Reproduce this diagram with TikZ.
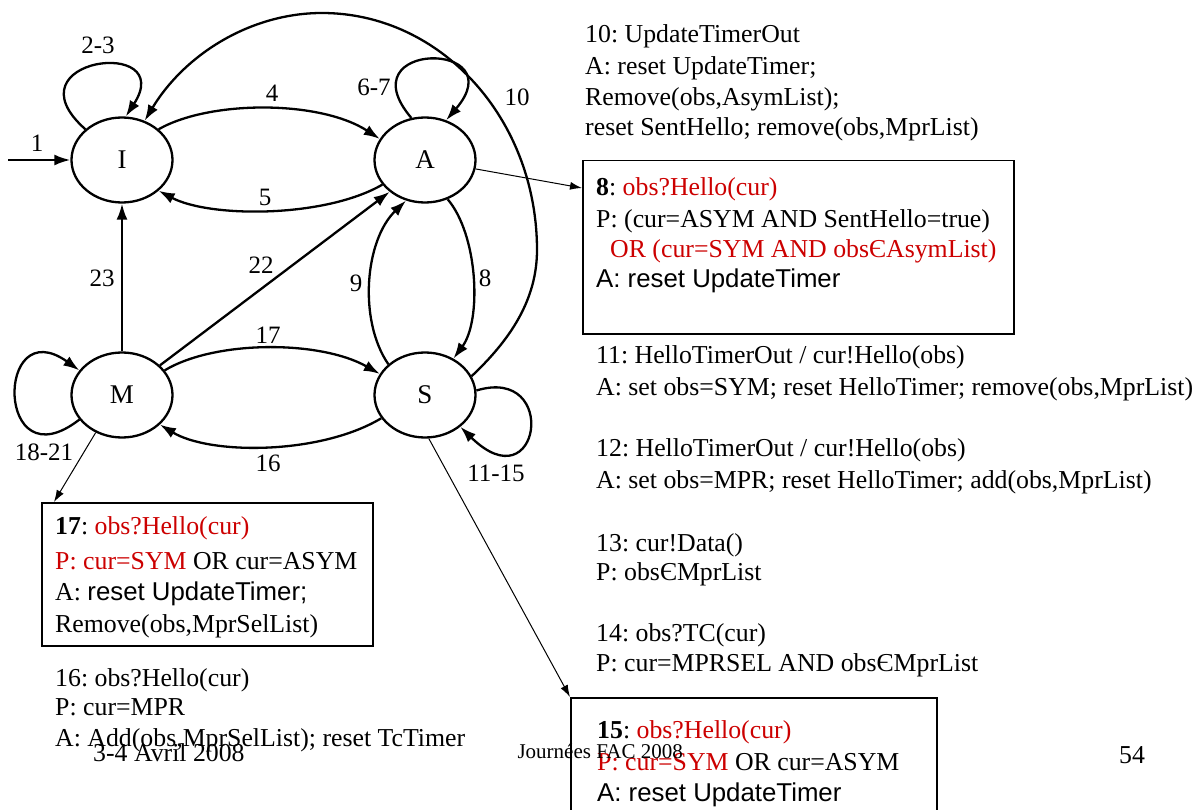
\documentclass[tikz,border=0pt]{standalone}
\usepackage{fontspec}
\setmainfont{Liberation Serif}
\newfontfamily\sansf{Liberation Sans}
\usetikzlibrary{shapes.geometric,arrows.meta,calc}
\definecolor{hlred}{RGB}{204,0,0}
\frenchspacing

\tikzset{
  state/.style={ellipse, draw, line width=2.3pt, minimum width=101pt, minimum height=85pt,
    inner sep=0pt, font=\fontsize{27}{30}\selectfont},
  tr/.style={line width=2.3pt, -{Latex[length=16pt,width=11pt]}},
  lbl/.style={inner sep=0pt, font=\fontsize{25}{28}\selectfont},
  note/.style={line width=1pt, -{Latex[length=12pt,width=8pt]}},
  notebox/.style={draw, line width=1.5pt, anchor=north west, inner sep=0pt},
  txt/.style={anchor=base west, inner sep=0pt, font=\fontsize{25.8}{31}\selectfont},
}

\begin{document}
\begin{tikzpicture}[x=1pt,y=-1pt]
\useasboundingbox (0,0) rectangle (1202,810);

% states
\node[state] (I) at (122,160) {I};
\node[state] (A) at (425,160) {A};
\node[state] (M) at (122,395) {M};
\node[state] (S) at (425,395) {S};

% initial transition
\coordinate (init) at (8,160);
\draw[tr] (init) -- (I.west);
\node[lbl] (l1) at (37,143) {1};

% self loops
\draw[tr] (I.140) .. controls (5,58) and (178,36) .. (I.85);
\node[lbl] (l23a) at (98,45) {2-3};
\draw[tr] (A.108) .. controls (345,40) and (515,40) .. (A.62);
\node[lbl] (l67) at (374,87) {6-7};
\draw[tr] (M.210) .. controls (-5,485) and (-5,310) .. (M.150);
\node[lbl] (l1821) at (44,452) {18-21};
\draw[tr] (S.5) .. controls (560,365) and (540,505) .. (S.-42);
\node[lbl] (l1115) at (496,473) {11-15};

% transitions between states
\draw[tr] (I.40) .. controls (210,100) and (320,100) .. (A.155);
\node[lbl] (l4) at (272,93) {4};
\draw[tr] (A.210) .. controls (325,218) and (210,218) .. (I.320);
\node[lbl] (l5) at (265,197) {5};
\draw[tr] (M.north) -- (I.south);
\node[lbl] (l23) at (102,278) {23};
\draw[tr] (M.38) -- (A.222);
\node[lbl] (l22) at (261,265) {22};
\draw[tr] (S.140) .. controls (358,320) and (365,240) .. (A.245);
\node[lbl] (l9) at (356,283) {9};
\draw[tr] (A.300) .. controls (478,235) and (482,320) .. (S.52);
\node[lbl] (l8) at (485,278) {8};
\draw[tr] (M.30) .. controls (215,340) and (320,340) .. (S.155);
\node[lbl] (l17) at (268,335) {17};
\draw[tr] (S.208) .. controls (320,455) and (210,455) .. (M.322);
\node[lbl] (l16) at (268,463) {16};
\draw[tr] (S.22) .. controls (510,340) and (537,300) .. (537,250)
  .. controls (537,119) and (441,13) .. (322,13)
  .. controls (251,13) and (185,54) .. (I.60);
\node[lbl] (l10) at (517,97) {10};

% annotation boxes
\node[notebox, minimum width=431pt, minimum height=173pt] (b8) at (582,160) {};
\node[notebox, minimum width=331pt, minimum height=143pt] (b17) at (41,502) {};
\node[notebox, minimum width=366pt, minimum height=150pt] (b15) at (570,697) {};

\draw[note] (A.350) -- ($(b8.north west)+(0,28)$);
\draw[note] (M.235) -- ($(b17.north west)+(13,0)$);
\draw[note] (S.275) -- (b15.north west);

% transition 10
\node[txt] (t10a) at (585,43) {10: UpdateTimerOut};
\node[txt] (t10b) at (585,75) {A: reset UpdateTimer;};
\node[txt] (t10c) at (585,106) {Remove(obs,AsymList);};
\node[txt] (t10d) at (585,136) {reset SentHello; remove(obs,MprList)};

% transition 8
\node[txt] (t8a) at (596,196) {\textbf{8}: \textcolor{hlred}{obs?Hello(cur)}};
\node[txt] (t8b) at (596,228) {P: (cur=ASYM AND SentHello=true)};
\node[txt] (t8c) at (610,258) {\textcolor{hlred}{OR (cur=SYM AND obsЄAsymList)}};
\node[txt] (t8d) at (596,288) {\sansf A: reset UpdateTimer};

% transitions 11 to 14
\node[txt] (t11a) at (596,363) {11: HelloTimerOut / cur!Hello(obs)};
\node[txt] (t11b) at (596,395) {A: set obs=SYM; reset HelloTimer; remove(obs,MprList)};
\node[txt] (t12a) at (596,456) {12: HelloTimerOut / cur!Hello(obs)};
\node[txt] (t12b) at (596,488) {A: set obs=MPR; reset HelloTimer; add(obs,MprList)};
\node[txt] (t13a) at (596,551) {13: cur!Data()};
\node[txt] (t13b) at (596,580) {P: obsЄMprList};
\node[txt] (t14a) at (596,641) {14: obs?TC(cur)};
\node[txt] (t14b) at (596,671) {P: cur=MPRSEL AND obsЄMprList};

% transition 17
\node[txt] (t17a) at (55,534) {\textbf{17}: \textcolor{hlred}{obs?Hello(cur)}};
\node[txt] (t17b) at (55,569) {\textcolor{hlred}{P: cur=SYM} OR cur=ASYM};
\node[txt] (t17c) at (55,600) {A: {\sansf reset UpdateTimer;}};
\node[txt] (t17d) at (55,632) {Remove(obs,MprSelList)};

% transition 16
\node[txt] (t16a) at (55,686) {16: obs?Hello(cur)};
\node[txt] (t16b) at (55,715) {P: cur=MPR};
\node[txt] (t16c) at (55,746) {A: Add(obs,MprSelList); reset TcTimer};

% transition 15
\node[txt] (t15a) at (597,738) {\textbf{15}: \textcolor{hlred}{obs?Hello(cur)}};
\node[txt] (t15b) at (597,770) {\textcolor{hlred}{P: cur=SYM} OR cur=ASYM};
\node[txt] (t15c) at (597,801) {\sansf A: reset UpdateTimer};

% slide footer
\node[txt] (fdate) at (93,761) {3-4 Avril 2008};
\node[anchor=base east, inner sep=0pt, font=\fontsize{21}{25}\selectfont] (fconf) at (683,758) {Journées FAC 2008};
\node[txt] (fpage) at (1119,763) {54};
\end{tikzpicture}
\end{document}
